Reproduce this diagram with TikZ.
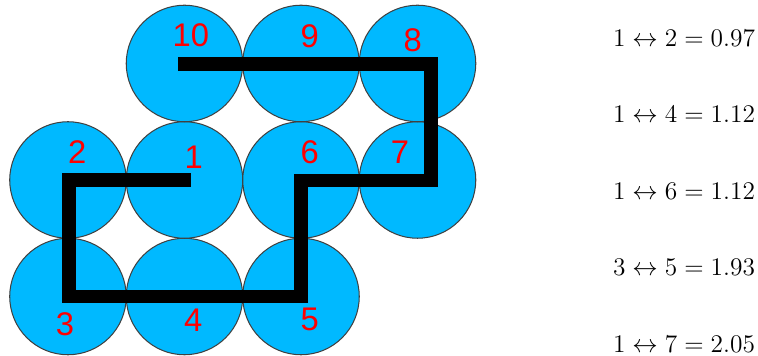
\RequirePackage{fix-cm}
\documentclass[tikz,border=0pt]{standalone}
\usepackage{fontspec}
\newfontfamily\labelfont{Liberation Sans}
\definecolor{beadblue}{RGB}{0,185,255}
\begin{document}
\begin{tikzpicture}[
			bead/.style={
				circle, draw=black!75, line width=0.5pt,
				fill=beadblue, minimum size=2cm,
				inner sep=0pt, outer sep=0pt
			},
			bond/.style={line width=6.5pt, line cap=rect},
			num/.style={text=red, font=\labelfont\fontsize{16}{18}\selectfont, inner sep=0pt},
			dist/.style={anchor=east, inner sep=0pt, font=\fontsize{12.4}{15}\selectfont}
			]
			\useasboundingbox (-1.167,-1.021) rectangle (11.845,5.090);
			
			\node[bead] (b3) at (0,0) {};
			\node[bead] (b4) at (2,0) {};
			\node[bead] (b5) at (4,0) {};
			\node[bead] (b2) at (0,2) {};
			\node[bead] (b1) at (2,2) {};
			\node[bead] (b6) at (4,2) {};
			\node[bead] (b7) at (6,2) {};
			\node[bead] (b10) at (2,4) {};
			\node[bead] (b9) at (4,4) {};
			\node[bead] (b8) at (6,4) {};
			
			\coordinate (p1) at (2.0,2.0);
			\coordinate (p2) at (0.02,2.0);
			\coordinate (p3) at (0.02,0.0);
			\coordinate (p4) at (2.0,0.0);
			\coordinate (p5) at (4.0,0.0);
			\coordinate (p6) at (4.0,1.99);
			\coordinate (p7) at (6.23,1.99);
			\coordinate (p8) at (6.23,3.99);
			\coordinate (p9) at (4.0,3.99);
			\coordinate (p10) at (2.0,3.99);
			
			\draw [bond] (p1) -- (p2);
			\draw [bond] (p2) -- (p3);
			\draw [bond] (p3) -- (p4);
			\draw [bond] (p4) -- (p5);
			\draw [bond] (p5) -- (p6);
			\draw [bond] (p6) -- (p7);
			\draw [bond] (p7) -- (p8);
			\draw [bond] (p8) -- (p9);
			\draw [bond] (p9) -- (p10);
			
			\node[num] (n1) at (2.16,2.39) {1};
			\node[num] (n2) at (0.16,2.48) {2};
			\node[num] (n3) at (-0.05,-0.47) {3};
			\node[num] (n4) at (2.15,-0.40) {4};
			\node[num] (n5) at (4.15,-0.40) {5};
			\node[num] (n6) at (4.15,2.48) {6};
			\node[num] (n7) at (5.70,2.48) {7};
			\node[num] (n8) at (5.92,4.40) {8};
			\node[num] (n9) at (4.15,4.47) {9};
			\node[num] (n10) at (2.11,4.49) {10};
			
			\node[dist] (d12) at (11.80,4.438) {$1 \leftrightarrow 2 = 0.97$};
			\node[dist] (d14) at (11.80,3.124) {$1 \leftrightarrow 4 = 1.12$};
			\node[dist] (d16) at (11.80,1.811) {$1 \leftrightarrow 6 = 1.12$};
			\node[dist] (d35) at (11.80,0.498) {$3 \leftrightarrow 5 = 1.93$};
			\node[dist] (d17) at (11.80,-0.815) {$1 \leftrightarrow 7 = 2.05$};
			
		\end{tikzpicture}
\end{document}
